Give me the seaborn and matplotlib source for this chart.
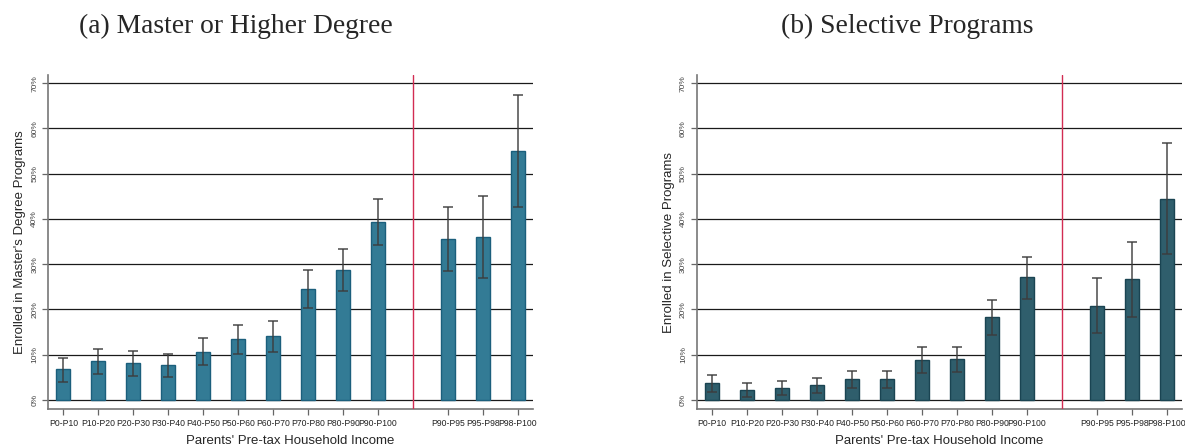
import numpy as np
import pandas as pd
import seaborn as sns
import matplotlib.pyplot as plt

# income groups (deciles, then top-decile split)
deciles = ["P0-P10", "P10-P20", "P20-P30", "P30-P40", "P40-P50",
           "P50-P60", "P60-P70", "P70-P80", "P80-P90", "P90-P100"]
top_groups = ["P90-P95", "P95-P98", "P98-P100"]

# (a) master or higher degree, percent
master_mean = [6.8, 8.5, 8.2, 7.7, 10.7, 13.4, 14.1, 24.6, 28.8, 39.4, 35.5, 36.0, 55.0]
master_lo = [4.0, 5.7, 5.4, 5.0, 7.8, 10.1, 10.6, 20.4, 24.1, 34.2, 28.4, 26.9, 42.7]
master_hi = [9.3, 11.3, 10.9, 10.2, 13.7, 16.6, 17.4, 28.7, 33.3, 44.5, 42.7, 45.0, 67.3]

# (b) selective programs, percent
select_mean = [3.7, 2.2, 2.7, 3.2, 4.6, 4.6, 8.8, 9.0, 18.3, 27.1, 20.8, 26.7, 44.4]
select_lo = [1.7, 0.7, 1.1, 1.5, 2.6, 2.6, 6.0, 6.1, 14.3, 22.3, 14.7, 18.3, 32.2]
select_hi = [5.5, 3.7, 4.3, 4.8, 6.5, 6.5, 11.6, 11.7, 22.2, 31.6, 26.9, 34.9, 56.8]

y_ticks = [0, 10, 20, 30, 40, 50, 60, 70]

sns.set_style("white")
plt.rcParams['font.family'] = ['Liberation Sans', 'DejaVu Sans']

groups = deciles + top_groups
order = deciles + [" "] + top_groups

fig = plt.figure(figsize=(11.85, 4.47), dpi=100)
ax1 = fig.add_axes([0.0405, 0.085, 0.409, 0.747])
ax2 = fig.add_axes([0.588, 0.085, 0.4095, 0.747])


def panel(ax, mean, lo, hi, color, edge, ylabel):
    df = pd.DataFrame({"group": groups, "value": mean})
    sns.barplot(data=df, x="group", y="value", order=order, color=color,
                saturation=1, width=0.4, edgecolor=edge, linewidth=1.0,
                errorbar=None, ax=ax, zorder=2)
    xs = [order.index(g) for g in groups]
    mean = np.array(mean)
    yerr = [mean - np.array(lo), np.array(hi) - mean]
    ax.errorbar(xs, mean, yerr=yerr, fmt="none", ecolor="#3c3c3c", elinewidth=1.2,
                capsize=3.6, capthick=1.2, alpha=0.85, zorder=3)
    ax.axvline(10, color="#d22c52", lw=1.0, zorder=4)
    ax.set_xlim(-0.44, 13.43)
    ax.set_ylim(-2, 71.8)
    ax.set_yticks(y_ticks)
    ax.set_yticklabels([f"{t}%" for t in y_ticks], rotation=90, va="center",
                       fontsize=6.0, color="#444444")
    ax.set_xticks(xs)
    ax.set_xticklabels(groups, fontsize=6.2, color="#222222")
    for t in y_ticks:
        ax.axhline(t, color="#1a1a1a", lw=0.9, zorder=1)
    ax.tick_params(axis="both", which="both", length=4, width=0.9, color="#666666",
                   direction="out", bottom=True, left=True, pad=3)
    sns.despine(ax=ax)
    for s in ["left", "bottom"]:
        ax.spines[s].set_color("#777777")
        ax.spines[s].set_linewidth(1.2)
    ax.set_xlabel("Parents' Pre-tax Household Income", fontsize=9.5, labelpad=5)
    ax.set_ylabel(ylabel, fontsize=9.5, labelpad=4)


panel(ax1, master_mean, master_lo, master_hi, "#337b95", "#1b5f7c",
      "Enrolled in Master's Degree Programs")
panel(ax2, select_mean, select_lo, select_hi, "#2f5e6c", "#1a4452",
      "Enrolled in Selective Programs")

fig.text(236 / 1185, 1 - 26 / 447, "(a) Master or Higher Degree", ha="center", va="center",
         fontsize=19.8, family=["Liberation Serif", "DejaVu Serif"])
fig.text(907 / 1185, 1 - 26 / 447, "(b) Selective Programs", ha="center", va="center",
         fontsize=19.8, family=["Liberation Serif", "DejaVu Serif"])

fig.savefig("out.png", dpi=100)
